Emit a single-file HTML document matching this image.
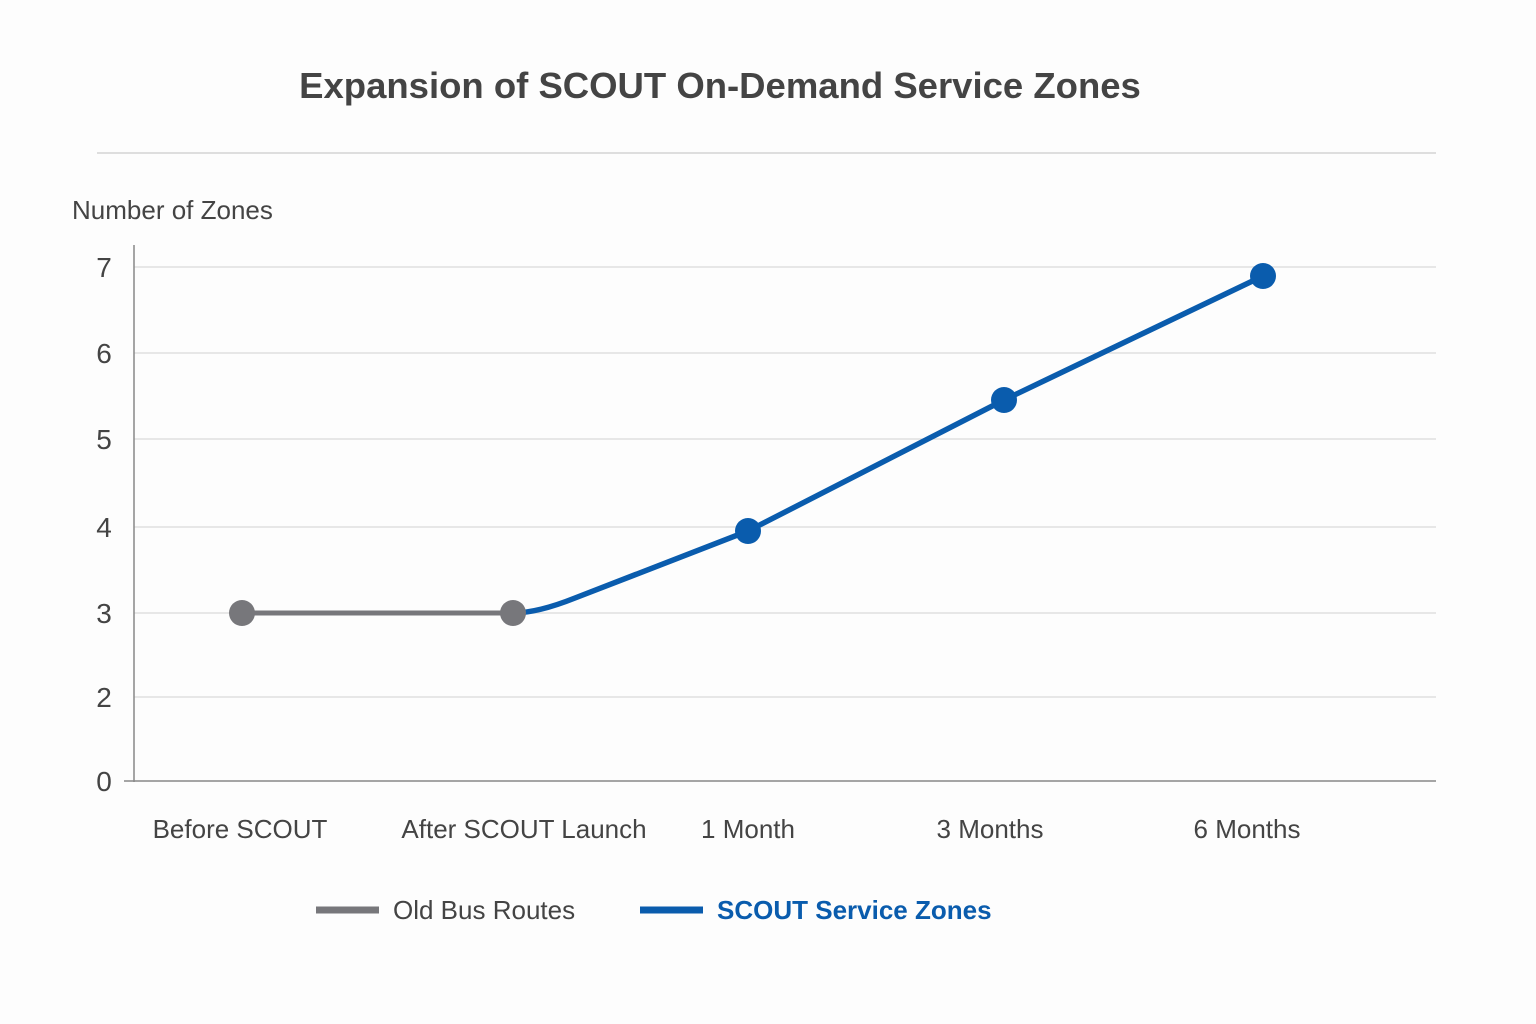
<!DOCTYPE html>
<html><head><meta charset="utf-8"><style>
html,body{margin:0;padding:0;background:#fdfdfd;}
svg{display:block;font-family:"Liberation Sans",sans-serif;}
</style></head><body>
<svg width="1536" height="1024" viewBox="0 0 1536 1024">
<rect width="1536" height="1024" fill="#fdfdfd"/>
<text x="720" y="98" text-anchor="middle" font-size="36.5" font-weight="bold" fill="#444">Expansion of SCOUT On-Demand Service Zones</text>
<line x1="97" y1="153" x2="1436" y2="153" stroke="#d4d4d4" stroke-width="1.5"/>
<text x="72" y="219" font-size="26" fill="#444">Number of Zones</text>
<g stroke="#dadada" stroke-width="1.2">
<line x1="134" y1="267" x2="1436" y2="267"/>
<line x1="134" y1="353" x2="1436" y2="353"/>
<line x1="134" y1="439" x2="1436" y2="439"/>
<line x1="134" y1="527" x2="1436" y2="527"/>
<line x1="134" y1="613" x2="1436" y2="613"/>
<line x1="134" y1="697" x2="1436" y2="697"/>
</g>
<line x1="134" y1="245" x2="134" y2="782" stroke="#888" stroke-width="1.5"/>
<line x1="124" y1="781" x2="1436" y2="781" stroke="#888" stroke-width="1.5"/>
<g font-size="28" fill="#444" text-anchor="middle">
<text x="104" y="277">7</text><text x="104" y="363">6</text><text x="104" y="449">5</text>
<text x="104" y="537">4</text><text x="104" y="623">3</text><text x="104" y="707">2</text>
<text x="104" y="791">0</text>
</g>
<g font-size="26" fill="#444" text-anchor="middle">
<text x="240" y="838">Before SCOUT</text>
<text x="524" y="838">After SCOUT Launch</text>
<text x="748" y="838">1 Month</text>
<text x="990" y="838">3 Months</text>
<text x="1247" y="838">6 Months</text>
</g>
<line x1="242" y1="613" x2="513" y2="613" stroke="#77777b" stroke-width="5"/>
<path d="M513,613 C530,613 550,608 575,598 L748,531 L1004,400 L1263,276" fill="none" stroke="#0a5cad" stroke-width="5.5"/>
<circle cx="242" cy="613" r="13" fill="#77777b"/>
<circle cx="513" cy="613" r="13" fill="#77777b"/>
<circle cx="748" cy="531" r="13" fill="#0a5cad"/>
<circle cx="1004" cy="400" r="13" fill="#0a5cad"/>
<circle cx="1263" cy="276" r="13" fill="#0a5cad"/>
<line x1="316" y1="910" x2="379" y2="910" stroke="#77777b" stroke-width="7"/>
<text x="393" y="919" font-size="26" fill="#444">Old Bus Routes</text>
<line x1="640" y1="910" x2="703" y2="910" stroke="#0a5cad" stroke-width="7"/>
<text x="717" y="919" font-size="26" font-weight="600" fill="#0a5cad">SCOUT Service Zones</text>
</svg>
</body></html>
